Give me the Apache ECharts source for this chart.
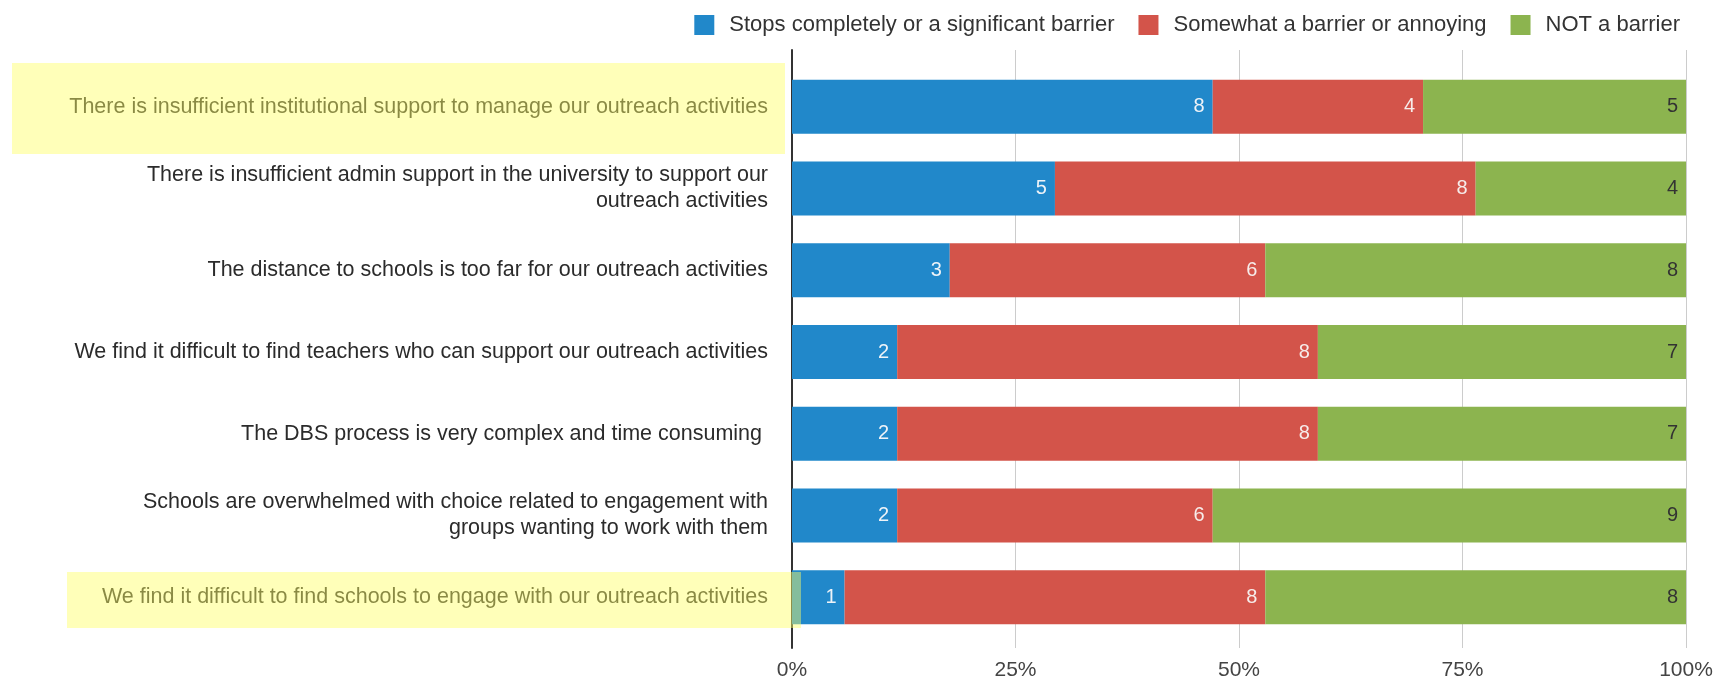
<!DOCTYPE html>
<html>
<head>
<meta charset="utf-8">
<script src="https://cdn.jsdelivr.net/npm/echarts@6/dist/echarts.min.js"></script>
<style>
  html, body { margin: 0; padding: 0; background: #fff; }
  #main { width: 1729px; height: 681px; }
</style>
</head>
<body>
<div id="main"></div>
<script>
var barriers = [
  'There is insufficient institutional support to manage our outreach activities',
  'There is insufficient admin support in the university to support our\noutreach activities',
  'The distance to schools is too far for our outreach activities',
  'We find it difficult to find teachers who can support our outreach activities',
  'The DBS process is very complex and time consuming ',
  'Schools are overwhelmed with choice related to engagement with\ngroups wanting to work with them',
  'We find it difficult to find schools to engage with our outreach activities'
];
var stops = [8, 5, 3, 2, 2, 2, 1];
var somewhat = [4, 8, 6, 8, 8, 6, 8];
var notBarrier = [5, 4, 8, 7, 7, 9, 8];
var tickLabels = ['0%', '25%', '50%', '75%', '100%'];

var seriesNames = ['Stops completely or a significant barrier', 'Somewhat a barrier or annoying', 'NOT a barrier'];
var colors = ['#2188ca', '#d3544a', '#8cb44f'];

var totals = stops.map(function (v, i) { return v + somewhat[i] + notBarrier[i]; });
function toPct(arr) {
  return arr.map(function (v, i) { return { value: v / totals[i] * 100, count: v }; });
}

function makeSeries(name, arr, idx, labelColor) {
  return {
    name: name,
    type: 'bar',
    stack: 'all',
    xAxisIndex: 0,
    yAxisIndex: 0,
    barWidth: 54,
    data: toPct(arr),
    itemStyle: { color: colors[idx] },
    label: {
      show: true,
      position: 'insideRight',
      distance: 8,
      color: labelColor,
      fontFamily: 'Liberation Sans',
      fontSize: 20,
      formatter: function (p) { return p.data.count; }
    }
  };
}

var chart = echarts.init(document.getElementById('main'), null, { renderer: 'canvas' });
chart.setOption({
  animation: false,
  textStyle: { fontFamily: 'Liberation Sans' },
  color: colors,
  legend: {
    top: 9,
    right: 44,
    itemWidth: 20,
    itemHeight: 20,
    itemGap: 24,
    icon: 'rect',
    textStyle: { fontSize: 22, color: '#333', fontFamily: 'Liberation Sans', padding: [0, 0, 0, 10] },
    data: seriesNames
  },
  grid: [
    { left: 792, right: 43, top: 66, height: 572 },
    { left: 792, right: 43, top: 50, bottom: 33 }
  ],
  xAxis: [
    {
      gridIndex: 0, type: 'value', min: 0, max: 100,
      axisLine: { show: false }, axisTick: { show: false },
      axisLabel: { show: false }, splitLine: { show: false }
    },
    {
      gridIndex: 1, type: 'value', min: 0, max: 100, interval: 25,
      axisLine: { show: false }, axisTick: { show: false },
      axisLabel: {
        color: '#444', fontSize: 21, margin: 12,
        formatter: function (v) { return tickLabels[v / 25]; }
      },
      splitLine: { lineStyle: { color: '#cccccc', width: 1 } }
    }
  ],
  yAxis: [
    {
      gridIndex: 0, type: 'category', inverse: true, data: barriers,
      axisLine: { show: false }, axisTick: { show: false },
      axisLabel: {
        color: '#2b2b2b', fontSize: 21.5, margin: 24, lineHeight: 26,
        align: 'right'
      }
    },
    {
      gridIndex: 1, type: 'category', data: [''],
      axisLine: { show: true, lineStyle: { color: '#333', width: 2 } },
      axisTick: { show: false }, axisLabel: { show: false }
    }
  ],
  series: [
    makeSeries(seriesNames[0], stops, 0, '#eef3f8'),
    makeSeries(seriesNames[1], somewhat, 1, '#f6ecea'),
    makeSeries(seriesNames[2], notBarrier, 2, '#333')
  ],
  graphic: [
    {
      type: 'rect', z: 100,
      shape: { x: 12, y: 63, width: 773, height: 91 },
      style: { fill: 'rgba(255,255,100,0.45)' }
    },
    {
      type: 'rect', z: 100,
      shape: { x: 67, y: 572, width: 734, height: 56 },
      style: { fill: 'rgba(255,255,100,0.45)' }
    }
  ]
});
</script>
</body>
</html>
